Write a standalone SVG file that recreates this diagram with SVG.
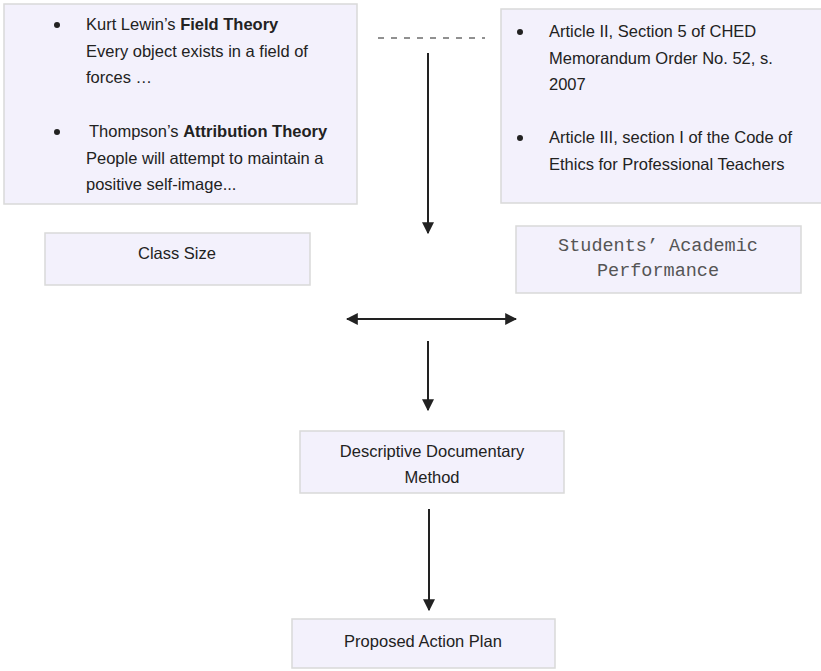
<svg xmlns="http://www.w3.org/2000/svg" width="821" height="671" viewBox="0 0 821 671">
<style>
.box{fill:#f3f1fc;stroke:#d9d9d9;stroke-width:1.5}
.t{font-family:"Liberation Sans",Arial,sans-serif;font-size:16.5px;fill:#222}
.b{font-weight:bold}
.m{font-family:"Liberation Mono","Courier New",monospace;font-size:18.5px;fill:#555}
.c{text-anchor:middle}
.ln{stroke:#222;stroke-width:2;fill:none}
</style>
<defs>
<marker id="ah2" viewBox="0 0 10 10" refX="9" refY="5" markerWidth="12" markerHeight="12" orient="auto-start-reverse" markerUnits="userSpaceOnUse">
<path d="M0,0 L10,5 L0,10 z" fill="#222"/>
</marker>
</defs>
<rect width="821" height="671" fill="#fff"/>
<g id="theories">
<rect class="box" x="4" y="4" width="353" height="200"/>
<circle cx="57" cy="25" r="3" fill="#222"/>
<text class="t" x="86" y="30">Kurt Lewin’s  <tspan class="b">Field Theory</tspan></text>
<text class="t" x="86" y="57">Every object exists in a field of</text>
<text class="t" x="86" y="83">forces …</text>
<circle cx="57" cy="132" r="3" fill="#222"/>
<text class="t" x="89" y="137">Thompson’s <tspan class="b">Attribution Theory</tspan></text>
<text class="t" x="86" y="164">People will attempt to maintain a</text>
<text class="t" x="86" y="190">positive self-image...</text>
</g>
<g id="laws">
<rect class="box" x="501" y="9" width="325" height="194"/>
<circle cx="520" cy="32" r="3" fill="#222"/>
<text class="t" x="549" y="37">Article II, Section 5 of CHED</text>
<text class="t" x="549" y="64">Memorandum Order No. 52, s.</text>
<text class="t" x="549" y="90">2007</text>
<circle cx="520" cy="138" r="3" fill="#222"/>
<text class="t" x="549" y="143">Article III, section I of the Code of</text>
<text class="t" x="549" y="170">Ethics for Professional Teachers</text>
</g>
<g id="classsize">
<rect class="box" x="45" y="233" width="265" height="52"/>
<text class="t c" x="177" y="259">Class Size</text>
</g>
<g id="performance">
<rect class="box" x="516" y="226" width="285" height="67"/>
<text class="m c" x="658" y="251">Students’ Academic</text>
<text class="m c" x="658" y="276">Performance</text>
</g>
<g id="method">
<rect class="box" x="300" y="431" width="264" height="62"/>
<text class="t c" x="432" y="457">Descriptive Documentary</text>
<text class="t c" x="432" y="483">Method</text>
</g>
<g id="plan">
<rect class="box" x="292" y="619" width="263" height="49"/>
<text class="t c" x="423" y="647">Proposed Action Plan</text>
</g>
<g id="connectors">
<line x1="378" y1="38" x2="485" y2="38" stroke="#222" stroke-width="1" stroke-dasharray="6,7"/>
<line class="ln" x1="428" y1="53" x2="428" y2="233" marker-end="url(#ah2)"/>
<line class="ln" x1="347" y1="319" x2="516" y2="319" marker-start="url(#ah2)" marker-end="url(#ah2)"/>
<line class="ln" x1="428" y1="341" x2="428" y2="410" marker-end="url(#ah2)"/>
<line class="ln" x1="429" y1="509" x2="429" y2="610" marker-end="url(#ah2)"/>
</g>
</svg>
